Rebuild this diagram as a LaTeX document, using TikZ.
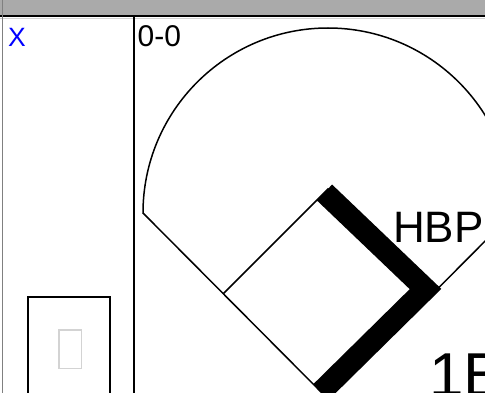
\documentclass[tikz,border=0pt]{standalone}
\usepackage{fontspec}
\setmainfont{Liberation Sans}
\definecolor{bar}{HTML}{AAAAAA}
\definecolor{runx}{HTML}{0000FF}
\definecolor{pale}{HTML}{D3D3D3}

\begin{document}
\begin{tikzpicture}[x=1pt,y=-1pt,
  field/.style={line width=1.5pt},
  runpath/.style={line width=22pt,line join=miter},
  lbl/.style={inner sep=0pt,anchor=base west}]
\useasboundingbox (0,0) rectangle (485,393);
\clip (0,0) rectangle (485,393);
\fill[white] (0,0) rectangle (485,393);
% header bar and cell borders
\fill[bar] (0,0) rectangle (485,15.5);
\draw[line width=2pt] (0,16.5)--(485,16.5);
\draw[pale,line width=0.6pt] (0,18.2)--(485,18.2);
\draw[gray,line width=1.2pt] (2.2,0)--(2.2,393);
\draw[line width=2pt] (134,17.5)--(134,393);
% left column
\node[lbl,text=runx,font=\fontsize{26.5}{26.5}\selectfont] (outs) at (8,46.5) {X};
\draw[line width=1.5pt] (28,297) rectangle (110,400);
\draw[pale,line width=1.5pt] (59,330) rectangle (81.5,368.5);
% field
\coordinate (home) at (328,399);
\coordinate (first) at (433,294);
\coordinate (second) at (328,189);
\coordinate (third) at (223,294);
\coordinate (lpole) at (143,213);
\coordinate (rpole) at (513,213);
\draw[field] (rpole) -- (home) -- (lpole) arc[start angle=180,end angle=360,radius=185];
\draw[field] (third) -- (second) -- (first);
% runner path
\coordinate (r2) at (324.5,192.5);
\coordinate (r1) at (425.5,289);
\coordinate (r0) at (321,392);
\draw[runpath] (r2) -- (r1) -- (r0);
% texts
\node[lbl,font=\fontsize{30}{30}\selectfont] (count) at (137.5,46.5) {0-0};
\node[lbl,font=\fontsize{44}{44}\selectfont] (result) at (393,242) {HBP};
\node[lbl,font=\fontsize{62}{62}\selectfont] (base) at (429,396) {1B};
\end{tikzpicture}
\end{document}
